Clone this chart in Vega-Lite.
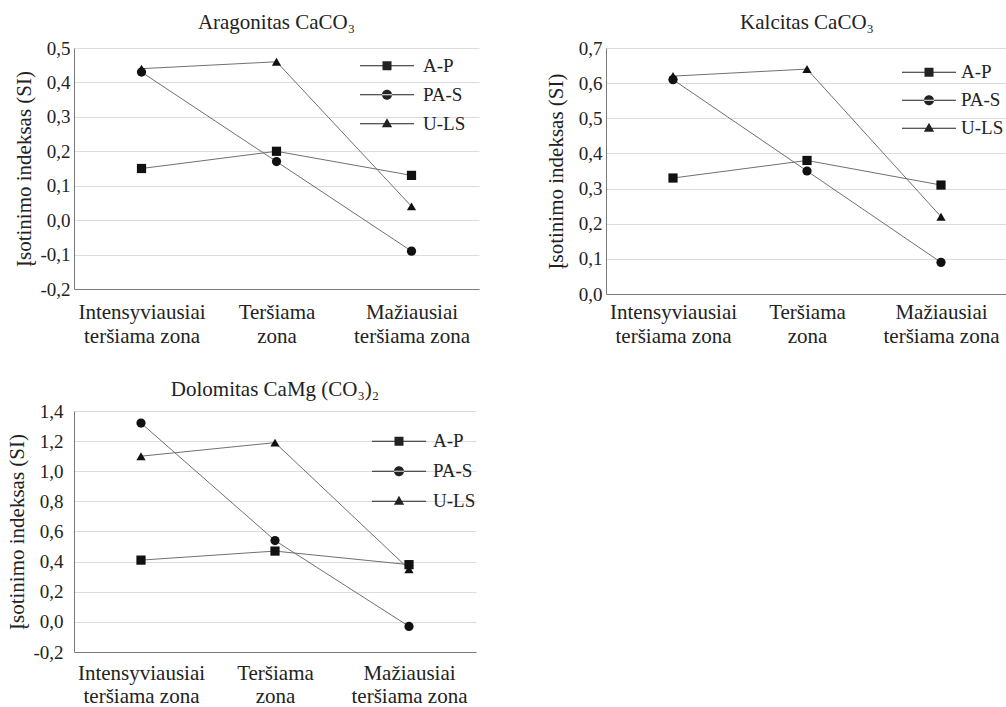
{
  "$schema": "https://vega.github.io/schema/vega-lite/v6.json",
  "padding": {"left": 6, "top": 12, "right": 0, "bottom": 0},
  "background": "white",
  "config": {
    "font": "Liberation Serif",
    "view": {"stroke": null},
    "axis": {"domainColor": "#7a7a7a", "gridColor": "#dcdcdc", "ticks": false, "labelColor": "#222", "titleColor": "#222", "labelFont": "Liberation Serif", "titleFont": "Liberation Serif", "titleFontWeight": "normal", "labelFontSize": 19, "titleFontSize": 21},
    "axisX": {"labelFontSize": 21, "labelLineHeight": 24, "labelAngle": 0, "tickBand": "extent", "labelPadding": 12, "labelBaseline": "top"},
    "title": {"font": "Liberation Serif", "fontSize": 21, "fontWeight": "normal", "color": "#222"}
  },
  "datasets": {
    "arag": [
      {"zona": "Intensyviausiai teršiama zona", "serija": "A-P", "si": 0.15},
      {"zona": "Teršiama zona", "serija": "A-P", "si": 0.20},
      {"zona": "Mažiausiai teršiama zona", "serija": "A-P", "si": 0.13},
      {"zona": "Intensyviausiai teršiama zona", "serija": "PA-S", "si": 0.43},
      {"zona": "Teršiama zona", "serija": "PA-S", "si": 0.17},
      {"zona": "Mažiausiai teršiama zona", "serija": "PA-S", "si": -0.09},
      {"zona": "Intensyviausiai teršiama zona", "serija": "U-LS", "si": 0.44},
      {"zona": "Teršiama zona", "serija": "U-LS", "si": 0.46},
      {"zona": "Mažiausiai teršiama zona", "serija": "U-LS", "si": 0.04}
    ],
    "kalc": [
      {"zona": "Intensyviausiai teršiama zona", "serija": "A-P", "si": 0.33},
      {"zona": "Teršiama zona", "serija": "A-P", "si": 0.38},
      {"zona": "Mažiausiai teršiama zona", "serija": "A-P", "si": 0.31},
      {"zona": "Intensyviausiai teršiama zona", "serija": "PA-S", "si": 0.61},
      {"zona": "Teršiama zona", "serija": "PA-S", "si": 0.35},
      {"zona": "Mažiausiai teršiama zona", "serija": "PA-S", "si": 0.09},
      {"zona": "Intensyviausiai teršiama zona", "serija": "U-LS", "si": 0.62},
      {"zona": "Teršiama zona", "serija": "U-LS", "si": 0.64},
      {"zona": "Mažiausiai teršiama zona", "serija": "U-LS", "si": 0.22}
    ],
    "dolo": [
      {"zona": "Intensyviausiai teršiama zona", "serija": "A-P", "si": 0.41},
      {"zona": "Teršiama zona", "serija": "A-P", "si": 0.47},
      {"zona": "Mažiausiai teršiama zona", "serija": "A-P", "si": 0.38},
      {"zona": "Intensyviausiai teršiama zona", "serija": "PA-S", "si": 1.32},
      {"zona": "Teršiama zona", "serija": "PA-S", "si": 0.54},
      {"zona": "Mažiausiai teršiama zona", "serija": "PA-S", "si": -0.03},
      {"zona": "Intensyviausiai teršiama zona", "serija": "U-LS", "si": 1.10},
      {"zona": "Teršiama zona", "serija": "U-LS", "si": 1.19},
      {"zona": "Mažiausiai teršiama zona", "serija": "U-LS", "si": 0.35}
    ]
  },
  "spacing": 33,
  "vconcat": [
    {
      "hconcat": [
        {
          "title": {"text": "Aragonitas CaCO₃", "offset": 6},
          "width": 405, "height": 241,
          "data": {"name": "arag"},
          "encoding": {
            "x": {"field": "zona", "type": "nominal", "bandPosition": 0.5, "sort": ["Intensyviausiai teršiama zona", "Teršiama zona", "Mažiausiai teršiama zona"], "scale": {"type": "band", "paddingInner": 0, "paddingOuter": 0}, "axis": {"title": null, "labelExpr": "[split(datum.label, ' ')[0], join(slice(split(datum.label, ' '), 1), ' ')]"}},
            "y": {"field": "si", "type": "quantitative", "scale": {"domain": [-0.2, 0.5], "nice": false, "zero": false}, "axis": {"title": "Įsotinimo indeksas (SI)", "values": [-0.2, -0.1, 0, 0.1, 0.2, 0.3, 0.4, 0.5], "labelExpr": "(datum.value < -0.0001 ? '-' : '') + replace(format(abs(datum.value), '.1f'), '.', ',')", "titlePadding": 5, "labelPadding": 4}}
          },
          "layer": [
            {"mark": {"type": "line", "color": "#707070", "strokeWidth": 1}, "encoding": {"detail": {"field": "serija"}}},
            {"mark": {"type": "point", "filled": true, "color": "#111", "opacity": 1, "size": 85}, "encoding": {"shape": {"field": "serija", "type": "nominal", "scale": {"domain": ["A-P", "PA-S", "U-LS"], "range": ["square", "circle", "triangle-up"]}, "legend": null}}},
            {"transform": [{"filter": "false"}], "mark": {"type": "point", "filled": true, "color": "#222", "opacity": 1}, "encoding": {"shape": {"field": "serija", "type": "nominal", "scale": {"domain": ["A-P", "PA-S", "U-LS"], "range": ["M-1,-0.0185H1V0.0185H-1Z M-0.167,-0.167H0.167V0.167H-0.167Z", "M-0.185,0A0.185,0.185 0 1,0 0.185,0A0.185,0.185 0 1,0 -0.185,0Z M-1,-0.0185H1V0.0185H-1Z", "M0,-0.2L0.19,0.13L-0.19,0.13Z M-1,-0.0185H1V0.0185H-1Z"]}, "legend": {"title": null, "orient": "none", "legendX": 286, "legendY": 3.5, "symbolSize": 2916, "symbolStrokeWidth": 0, "symbolOpacity": 1, "clipHeight": 28.5, "labelOffset": 9, "labelFontSize": 19, "labelFont": "Liberation Serif", "labelColor": "#222", "rowPadding": 0, "padding": 0}}}}
          ],
          "resolve": {"scale": {"shape": "independent"}, "legend": {"shape": "independent"}}
        },
        {
          "title": {"text": "Kalcitas CaCO₃", "offset": 6},
          "width": 402, "height": 246,
          "data": {"name": "kalc"},
          "encoding": {
            "x": {"field": "zona", "type": "nominal", "bandPosition": 0.5, "sort": ["Intensyviausiai teršiama zona", "Teršiama zona", "Mažiausiai teršiama zona"], "scale": {"type": "band", "paddingInner": 0, "paddingOuter": 0}, "axis": {"title": null, "labelPadding": 7, "labelExpr": "[split(datum.label, ' ')[0], join(slice(split(datum.label, ' '), 1), ' ')]"}},
            "y": {"field": "si", "type": "quantitative", "scale": {"domain": [0, 0.7], "nice": false, "zero": false}, "axis": {"title": "Įsotinimo indeksas (SI)", "values": [0, 0.1, 0.2, 0.3, 0.4, 0.5, 0.6, 0.7], "labelExpr": "(datum.value < -0.0001 ? '-' : '') + replace(format(abs(datum.value), '.1f'), '.', ',')", "titlePadding": 12, "labelPadding": 4}}
          },
          "layer": [
            {"mark": {"type": "line", "color": "#707070", "strokeWidth": 1}, "encoding": {"detail": {"field": "serija"}}},
            {"mark": {"type": "point", "filled": true, "color": "#111", "opacity": 1, "size": 85}, "encoding": {"shape": {"field": "serija", "type": "nominal", "scale": {"domain": ["A-P", "PA-S", "U-LS"], "range": ["square", "circle", "triangle-up"]}, "legend": null}}},
            {"transform": [{"filter": "false"}], "mark": {"type": "point", "filled": true, "color": "#222", "opacity": 1}, "encoding": {"shape": {"field": "serija", "type": "nominal", "scale": {"domain": ["A-P", "PA-S", "U-LS"], "range": ["M-1,-0.0185H1V0.0185H-1Z M-0.167,-0.167H0.167V0.167H-0.167Z", "M-0.185,0A0.185,0.185 0 1,0 0.185,0A0.185,0.185 0 1,0 -0.185,0Z M-1,-0.0185H1V0.0185H-1Z", "M0,-0.2L0.19,0.13L-0.19,0.13Z M-1,-0.0185H1V0.0185H-1Z"]}, "legend": {"title": null, "orient": "none", "legendX": 296, "legendY": 10.5, "symbolSize": 2916, "symbolStrokeWidth": 0, "symbolOpacity": 1, "clipHeight": 27.5, "labelOffset": 5, "labelFontSize": 19, "labelFont": "Liberation Serif", "labelColor": "#222", "rowPadding": 0, "padding": 0}}}}
          ],
          "resolve": {"scale": {"shape": "independent"}, "legend": {"shape": "independent"}}
        }
      ],
      "spacing": 66
    },
    {
      "title": {"text": "Dolomitas CaMg (CO₃)₂", "offset": 2},
      "width": 402, "height": 241,
      "data": {"name": "dolo"},
      "encoding": {
        "x": {"field": "zona", "type": "nominal", "bandPosition": 0.5, "sort": ["Intensyviausiai teršiama zona", "Teršiama zona", "Mažiausiai teršiama zona"], "scale": {"type": "band", "paddingInner": 0, "paddingOuter": 0}, "axis": {"title": null, "labelPadding": 10, "labelLineHeight": 23, "labelExpr": "[split(datum.label, ' ')[0], join(slice(split(datum.label, ' '), 1), ' ')]"}},
        "y": {"field": "si", "type": "quantitative", "scale": {"domain": [-0.2, 1.4], "nice": false, "zero": false}, "axis": {"title": "Įsotinimo indeksas (SI)", "values": [-0.2, 0, 0.2, 0.4, 0.6, 0.8, 1.0, 1.2, 1.4], "labelExpr": "(datum.value < -0.0001 ? '-' : '') + replace(format(abs(datum.value), '.1f'), '.', ',')", "titlePadding": 5, "labelPadding": 11}}
      },
      "layer": [
        {"mark": {"type": "line", "color": "#707070", "strokeWidth": 1}, "encoding": {"detail": {"field": "serija"}}},
        {"mark": {"type": "point", "filled": true, "color": "#111", "opacity": 1, "size": 85}, "encoding": {"shape": {"field": "serija", "type": "nominal", "scale": {"domain": ["A-P", "PA-S", "U-LS"], "range": ["square", "circle", "triangle-up"]}, "legend": null}}},
        {"transform": [{"filter": "false"}], "mark": {"type": "point", "filled": true, "color": "#222", "opacity": 1}, "encoding": {"shape": {"field": "serija", "type": "nominal", "scale": {"domain": ["A-P", "PA-S", "U-LS"], "range": ["M-1,-0.0185H1V0.0185H-1Z M-0.167,-0.167H0.167V0.167H-0.167Z", "M-0.185,0A0.185,0.185 0 1,0 0.185,0A0.185,0.185 0 1,0 -0.185,0Z M-1,-0.0185H1V0.0185H-1Z", "M0,-0.2L0.19,0.13L-0.19,0.13Z M-1,-0.0185H1V0.0185H-1Z"]}, "legend": {"title": null, "orient": "none", "legendX": 298, "legendY": 15.5, "symbolSize": 2916, "symbolStrokeWidth": 0, "symbolOpacity": 1, "clipHeight": 29.5, "labelOffset": 7, "labelFontSize": 19, "labelFont": "Liberation Serif", "labelColor": "#222", "rowPadding": 0, "padding": 0}}}}
      ],
      "resolve": {"scale": {"shape": "independent"}, "legend": {"shape": "independent"}}
    }
  ]
}
